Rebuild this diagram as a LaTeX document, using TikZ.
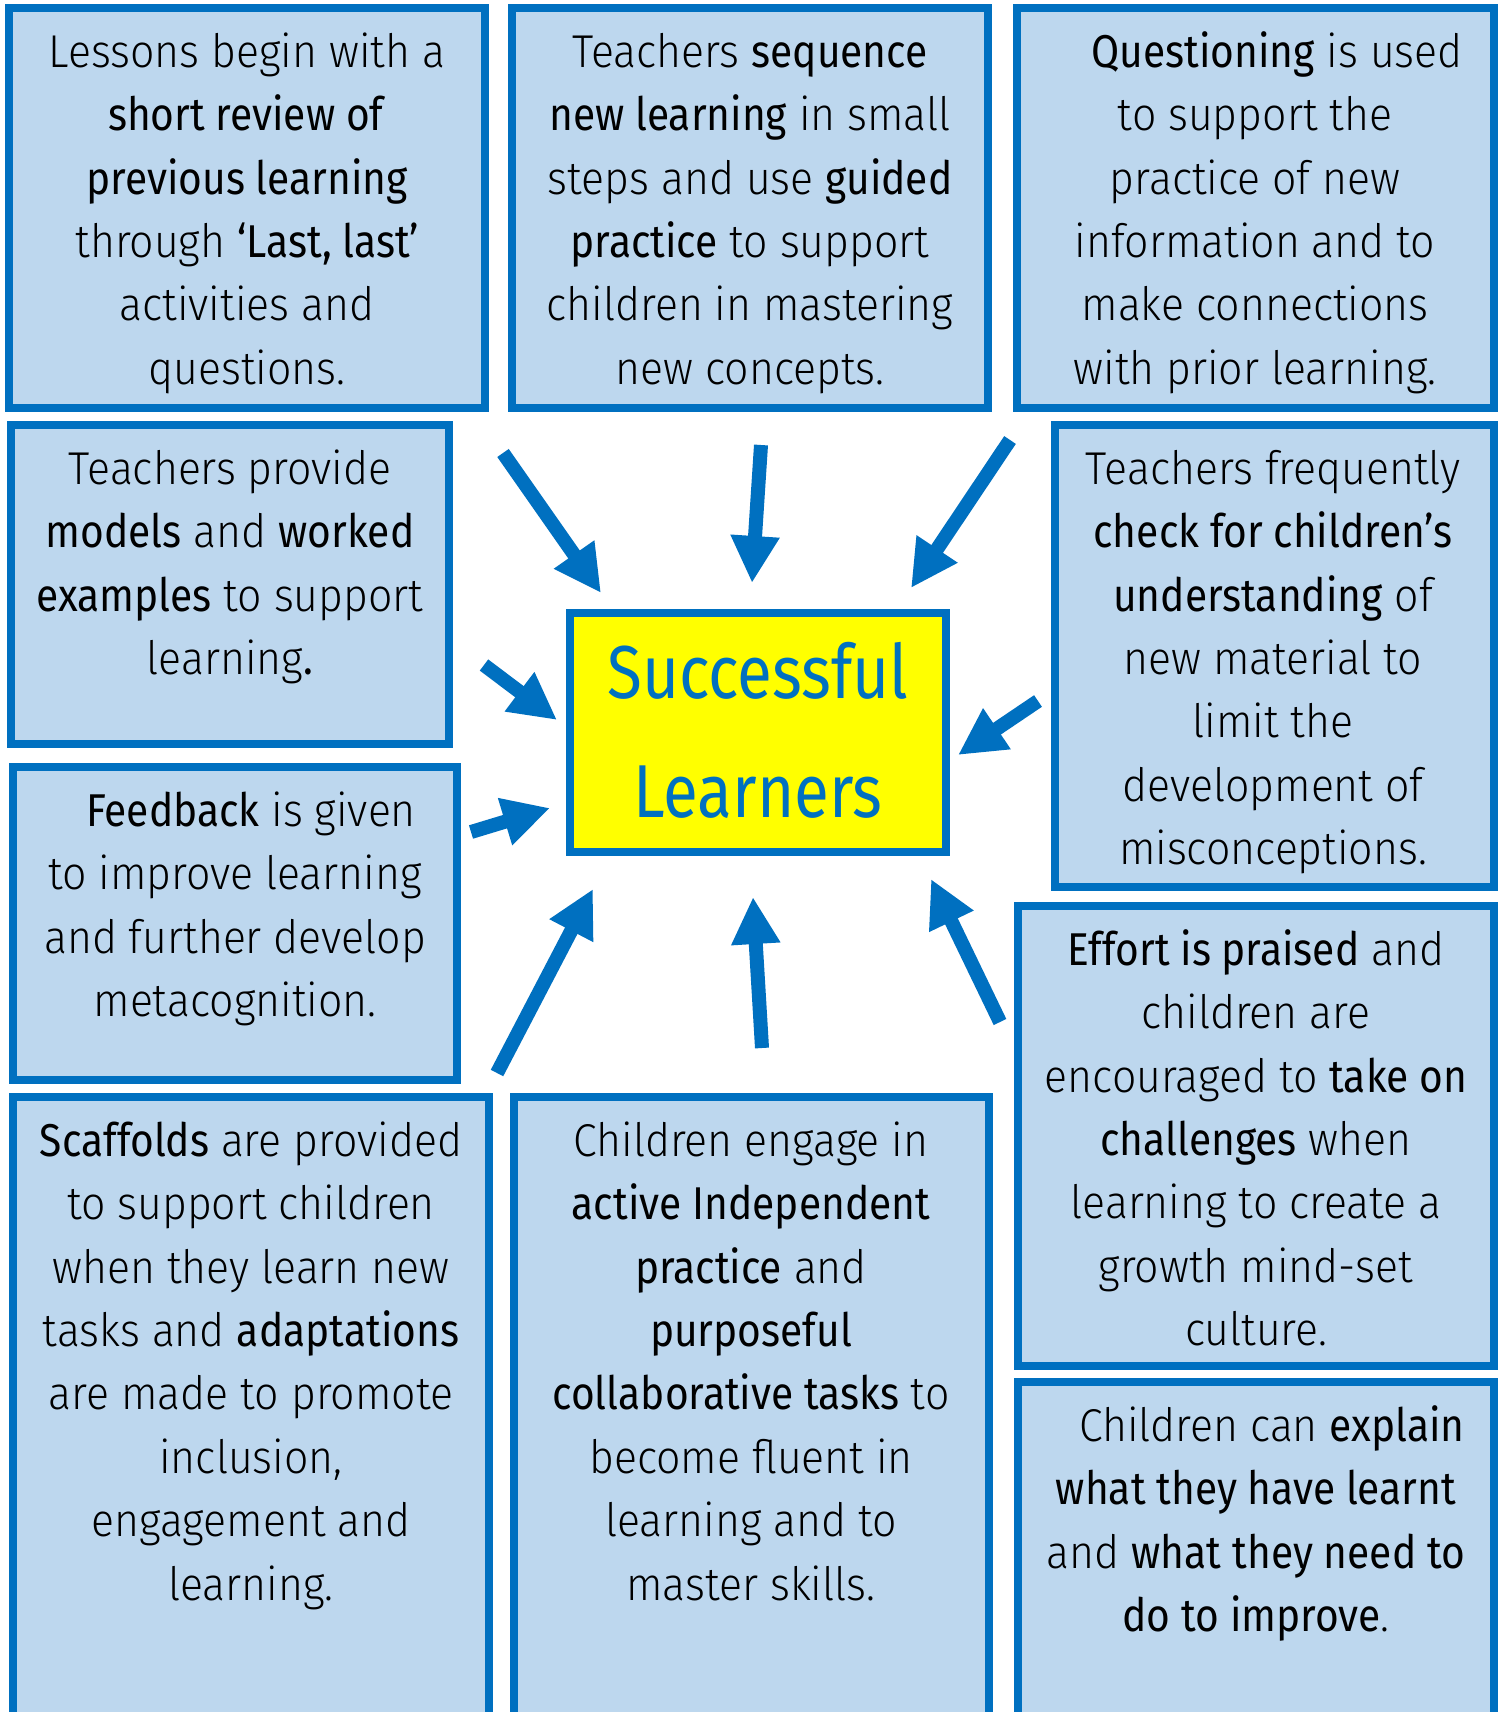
\documentclass[tikz,border=0pt]{standalone}
\usepackage{fontspec}
\setmainfont{Fira Sans Light}[BoldFont={Fira Sans}, UprightFeatures={FakeStretch=0.93}, BoldFeatures={FakeStretch=0.885}]
\newfontfamily\centerfont{Fira Sans}[FakeStretch=0.85]
\usetikzlibrary{arrows.meta}
\definecolor{bord}{HTML}{0070C0}
\definecolor{boxfill}{HTML}{BDD7EE}
\definecolor{cyellow}{HTML}{FFFF00}
\newcommand\bodyfont{\fontsize{46}{63.4}\selectfont}
\newcommand\fl{\rule{0pt}{45pt}}
\tikzset{
  boxst/.style={draw=bord, fill=boxfill, line width=8pt},
  centerst/.style={draw=bord, fill=cyellow, line width=8pt},
  txt/.style={anchor=north, inner sep=0pt, align=center, font=\bodyfont, text=black},
  arr/.style={draw=bord, line width=14pt, -{Triangle[width=46pt,length=47pt]}},
}
\begin{document}
\begin{tikzpicture}[x=1pt,y=-1pt]
\clip (0,0) rectangle (1504,1712);
\fill[white] (0,0) rectangle (1504,1712);
% boxes (outer edges inset by half line width)
\path[boxst] (9,8) rectangle (485,408);
\path[boxst] (512,8) rectangle (988,408);
\path[boxst] (1017,8) rectangle (1494,408);
\path[boxst] (11,425) rectangle (449,744);
\path[boxst] (13,767) rectangle (457,1080);
\path[boxst] (13,1097) rectangle (489,1740);
\path[boxst] (514,1097) rectangle (989,1740);
\path[boxst] (1055,425) rectangle (1494,887);
\path[boxst] (1018,906) rectangle (1494,1366);
\path[boxst] (1018,1382) rectangle (1494,1740);
\path[centerst] (570,613) rectangle (946,852);

% texts
\node[txt] (t1) at (247,22) {\fl Lessons begin with a\\\textbf{short review of}\\\textbf{previous learning}\\through \textbf{‘Last, last’}\\activities and\\questions.};
\node[txt] (t2) at (750,22) {\fl Teachers \textbf{sequence}\\\textbf{new learning} in small\\steps and use \textbf{guided}\\\textbf{practice} to support\\children in mastering\\new concepts.};
\node[txt] (t3) at (1255,22) {\fl\hspace*{44pt}\textbf{Questioning} is used\\to support the\\practice of new\\information and to\\make connections\\with prior learning.};
\node[txt] (t4) at (230,439) {\fl Teachers provide\\\textbf{models} and \textbf{worked}\\\textbf{examples} to support\\learning\textbf{.}};
\node[txt] (t5) at (235,781) {\fl\hspace*{32pt}\textbf{Feedback} is given\\to improve learning\\and further develop\\metacognition.};
\node[txt] (t6) at (251,1111) {\fl\textbf{Scaffolds} are provided\\to support children\\when they learn new\\tasks and \textbf{adaptations}\\are made to promote\\inclusion,\\engagement and\\learning.};
\node[txt] (t7) at (751,1111) {\fl Children engage in\\\textbf{active Independent}\\\textbf{practice} and\\\textbf{purposeful}\\\textbf{collaborative tasks} to\\become fluent in\\learning and to\\master skills.};
\node[txt] (t8) at (1273,439) {\fl Teachers frequently\\\textbf{check for children’s}\\\textbf{understanding} of\\new material to\\limit the\\development of\\misconceptions.};
\node[txt] (t9) at (1256,920) {\fl\textbf{Effort is praised} and\\children are\\encouraged to \textbf{take on}\\\textbf{challenges} when\\learning to create a\\growth mind-set\\culture.};
\node[txt] (t10) at (1256,1396) {\fl\hspace*{32pt}Children can \textbf{explain}\\\textbf{what they have learnt}\\and \textbf{what they need to}\\\textbf{do to improve}.};
\node[anchor=north, inner sep=0pt, align=center, text=bord, font=\centerfont\fontsize{75}{119}\selectfont] (center) at (758,638) {\rule{0pt}{60pt}Successful\\Learners};

% arrow end points
\coordinate (a1s) at (503,453);  \coordinate (a1e) at (601,593);
\coordinate (a2s) at (761,445);  \coordinate (a2e) at (752,583);
\coordinate (a3s) at (1010,440); \coordinate (a3e) at (911,588);
\coordinate (a4s) at (484,665);  \coordinate (a4e) at (557,720);
\coordinate (a5s) at (471,832);  \coordinate (a5e) at (550,808);
\coordinate (a6s) at (1038,701); \coordinate (a6e) at (958,755);
\coordinate (a7s) at (497,1073); \coordinate (a7e) at (593,889);
\coordinate (a8s) at (762,1048); \coordinate (a8e) at (753,897);
\coordinate (a9s) at (1000,1022);\coordinate (a9e) at (931,879);
\foreach \i in {1,...,9} {\draw[arr] (a\i s) -- (a\i e);}
\end{tikzpicture}
\end{document}
